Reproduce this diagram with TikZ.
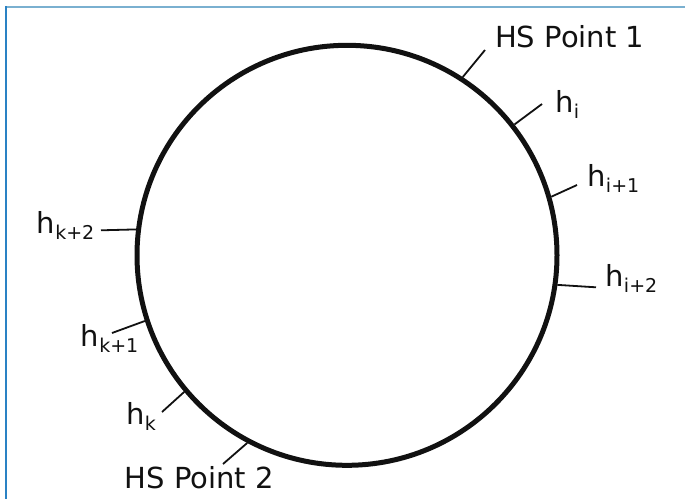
\documentclass[tikz,border=0pt]{standalone}
\usepackage{fontspec}
\setmainfont{DejaVu Sans}
\newcommand{\hsub}[1]{h\raisebox{-6pt}{\fontsize{19}{19}\selectfont #1}}
\definecolor{frametop}{RGB}{122,176,208}
\definecolor{frameleft}{RGB}{42,130,196}
\definecolor{ink}{RGB}{17,17,17}
\tikzset{
  lab/.style={anchor=base west, inner sep=0pt, text=ink, font=\fontsize{29}{29}\selectfont},
  tickline/.style={line width=1.8pt, draw=ink},
  ring/.style={circle, draw=ink, line width=5pt, minimum size=420pt, inner sep=0pt}
}
\begin{document}
\begin{tikzpicture}[x=1pt,y=-1pt]
\useasboundingbox (0,0) rectangle (685,499);
\fill[white] (0,0) rectangle (685,499);
\draw[frametop, line width=2pt] (5.2,7.3) -- (685,7.3);
\draw[frameleft, line width=1.8pt] (6.2,6.3) -- (6.2,499);

\node[ring] (ring) at (347,255.3) {};

% outer tick ends
\coordinate (o1) at (485,50);
\coordinate (oi) at (542,104);
\coordinate (oi1) at (577,185);
\coordinate (oi2) at (596,287.3);
\coordinate (ok2) at (101,230.3);
\coordinate (ok1) at (112,333);
\coordinate (ok) at (162,412);
\coordinate (o2) at (223,464);

\draw[tickline] (ring.57.5) -- (o1);
\draw[tickline] (ring.38.7) -- (oi);
\draw[tickline] (ring.16.9) -- (oi1);
\draw[tickline] (ring.-8.6) -- (oi2);
\draw[tickline] (ring.173.3) -- (ok2);
\draw[tickline] (ring.198.2) -- (ok1);
\draw[tickline] (ring.220.1) -- (ok);
\draw[tickline] (ring.242.7) -- (o2);

\node[lab] (t1) at (494.9,47) {HS Point 1};
\node[lab] (ti) at (555.4,112) {\hsub{i}};
\node[lab] (ti1) at (587.4,186) {\hsub{i+1}};
\node[lab] (ti2) at (605.4,286) {\hsub{i+2}};
\node[lab] (tk2) at (36.7,233.3) {\hsub{k+2}};
\node[lab] (tk1) at (80.7,346) {\hsub{k+1}};
\node[lab] (tk) at (126.2,424) {\hsub{k}};
\node[lab] (t2) at (124.4,488) {HS Point 2};
\end{tikzpicture}
\end{document}
